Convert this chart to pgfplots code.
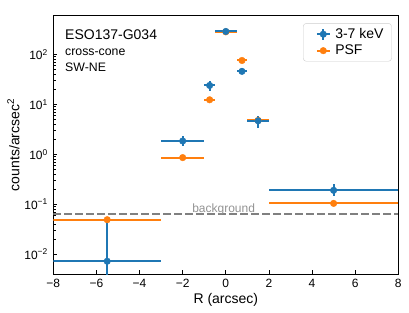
\documentclass[border=0pt]{standalone}
\usepackage{fontspec}
\setmainfont{Liberation Sans}
\usepackage{pgfplots}
\pgfplotsset{compat=1.18}
\usepackage{pgfplotstable}
\definecolor{tabblue}{HTML}{1F77B4}
\definecolor{taborange}{HTML}{FF7F0E}

\pgfplotstableread{
x y ex eyp eym
-5.5 0.0072 2.5 0.042 0.0069
-2 1.85 1 0.45 0.35
-0.75 24 0.25 6 5
0 290 0.5 8 8
0.75 46 0.25 7 6
1.5 4.7 0.5 1.1 1.3
5 0.19 3 0.07 0.045
}\bluedata

\pgfplotstableread{
x y ex
-5.5 0.049 2.5
-2 0.86 1
-0.75 12.4 0.25
0 285 0.5
0.75 76 0.25
1.5 4.8 0.5
5 0.104 3
}\orangedata

\begin{document}
\begin{tikzpicture}
\begin{axis}[
  scale only axis, width=345bp, height=258.3bp,
  at={(0,0)}, anchor=south west,
  xmin=-8, xmax=8, ymode=log, ymin=0.004, ymax=600,
  xtick={-8,-6,...,8}, xticklabels={−8,−6,−4,−2,0,2,4,6,8},
  ytick={0.01,0.1,1,10,100},
  yticklabels={10\textsuperscript{−2},10\textsuperscript{−1},10\textsuperscript{0},10\textsuperscript{1},10\textsuperscript{2}},
  tick align=inside, tick pos=left,
  major tick length=4bp, minor tick length=2.3bp,
  tick style={black, line width=0.8bp},
  axis line style={black, line width=1bp},
  ticklabel style={font=\fontsize{12bp}{14bp}\selectfont},
  xticklabel style={yshift=-2bp},
  yticklabel style={xshift=-2bp},
  xlabel={R (arcsec)}, ylabel={counts/arcsec\textsuperscript{2}},
  label style={font=\fontsize{14bp}{16bp}\selectfont},
  xlabel style={yshift=2bp},
  ylabel style={yshift=-2bp},
  legend style={at={(0.981,0.971)}, anchor=north east, draw=black!20, rounded corners=3bp,
    font=\fontsize{14bp}{16bp}\selectfont, inner xsep=6bp, inner ysep=3bp,
    row sep=1bp, nodes={inner sep=2bp}},
  legend cell align=left,
  clip=true,
]
\addlegendimage{legend image code/.code={\path[draw=none,fill=none] (-4bp,-1bp) rectangle (20bp,1bp); \draw[tabblue,line width=2bp] (3.5bp,0bp)--(16.5bp,0bp) (10bp,-5.5bp)--(10bp,5.5bp); \fill[tabblue] (10bp,0bp) circle (3.3bp);}}
\addlegendentry{3-7 keV}
\addlegendimage{legend image code/.code={\path[draw=none,fill=none] (-4bp,-1bp) rectangle (20bp,1bp); \draw[taborange,line width=2bp] (3.5bp,0bp)--(16.5bp,0bp); \fill[taborange] (10bp,0bp) circle (3.3bp);}}
\addlegendentry{PSF}

\addplot[color=gray, line width=1.6bp, dash pattern=on 7.5bp off 3.5bp, forget plot] coordinates {(-8,0.063) (8,0.063)};

\addplot[only marks, mark=*, mark size=3.3bp, color=taborange, forget plot,
  error bars/.cd, x dir=both, x explicit, error mark=none,
  error bar style={line width=2bp, color=taborange}]
  table[x=x, y=y, x error=ex] {\orangedata};

\addplot[only marks, mark=*, mark size=3.3bp, color=tabblue, forget plot,
  error bars/.cd, x dir=both, x explicit, y dir=both, y explicit, error mark=none,
  error bar style={line width=2bp, color=tabblue}]
  table[x=x, y=y, x error=ex, y error plus=eyp, y error minus=eym] {\bluedata};

\node[anchor=base, text=gray!85, inner sep=0pt, font=\fontsize{12bp}{14bp}\selectfont] at (axis cs:-0.1,0.063) [yshift=2bp] {background};
\node[anchor=base west, inner sep=0pt, font=\fontsize{14bp}{16bp}\selectfont] at (rel axis cs:0.034,0.909) {ESO137-G034};
\node[anchor=base west, inner sep=0pt, font=\fontsize{12.3bp}{14bp}\selectfont] at (rel axis cs:0.034,0.844) {cross-cone};
\node[anchor=base west, inner sep=0pt, font=\fontsize{12.3bp}{14bp}\selectfont] at (rel axis cs:0.034,0.783) {SW-NE};
\end{axis}
\path (-53.3bp,-39bp) rectangle (355.7bp,274bp);
\end{tikzpicture}
\end{document}
